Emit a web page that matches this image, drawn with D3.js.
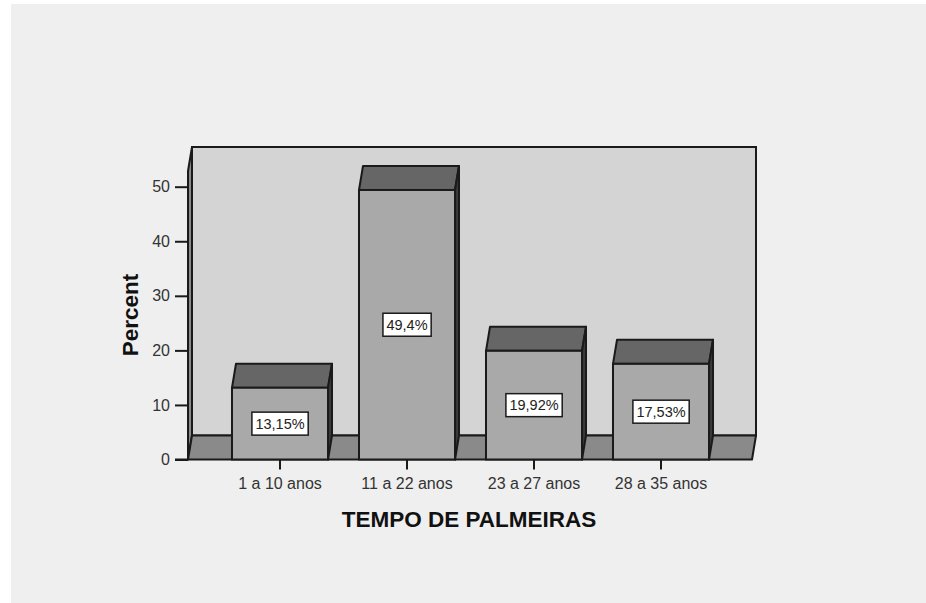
<!DOCTYPE html>
<html>
<head>
<meta charset="utf-8">
<script src="https://cdn.jsdelivr.net/npm/d3@7"></script>
<style>
  html, body { margin: 0; padding: 0; background: #ffffff; }
  svg { display: block; }
  text { font-family: "Liberation Sans", Arial, Helvetica, sans-serif; }
</style>
</head>
<body>
<svg id="chart" width="926" height="603"></svg>
<script>
// Distribution of palm ages (percent of plants per age class)
const categories = ["1 a 10 anos", "11 a 22 anos", "23 a 27 anos", "28 a 35 anos"];
const percentValues = [13.15, 49.4, 19.92, 17.53];
const valueLabels = ["13,15%", "49,4%", "19,92%", "17,53%"];
const yTicks = [0, 10, 20, 30, 40, 50];
const xTitle = "TEMPO DE PALMEIRAS";
const yTitle = "Percent";

const svg = d3.select("#chart");

// page panel
svg.append("rect").attr("x", 11).attr("y", 4).attr("width", 915).attr("height", 599).attr("fill", "#efefef");

// geometry of the 3D box
const left = 188, right = 752;       // front edges
const depthX = 4, depthY = -24;       // offset of the back plane
const wallTop = 147;                  // top of back wall

const y = d3.scaleLinear().domain([0, 50]).range([459.5, 186.7]);
const x = d3.scaleBand().domain(categories)
  .range([216.5, 724.5]).paddingInner(0.244).paddingOuter(0.122);

const floorFront = y(0);
const floorBack = floorFront + depthY;
const stroke = "#1a1a1a";

const g = svg.append("g");

// back wall
g.append("rect")
  .attr("x", left + depthX).attr("y", wallTop)
  .attr("width", right - left).attr("height", floorBack - wallTop)
  .attr("fill", "#d4d4d4").attr("stroke", stroke).attr("stroke-width", 2);

// left wall (thin slab)
g.append("path")
  .attr("d", `M${left},${floorFront} L${left},${wallTop - depthY} L${left + depthX},${wallTop} L${left + depthX},${floorBack} Z`)
  .attr("fill", "#8a8a8a").attr("stroke", stroke).attr("stroke-width", 2).attr("stroke-linejoin", "round");

// floor
g.append("path")
  .attr("d", `M${left},${floorFront} L${right},${floorFront} L${right + depthX},${floorBack} L${left + depthX},${floorBack} Z`)
  .attr("fill", "#8a8a8a").attr("stroke", stroke).attr("stroke-width", 2).attr("stroke-linejoin", "round");

// bars
const bars = g.selectAll("g.bar").data(categories.map((c, i) => ({ c, v: percentValues[i], lab: valueLabels[i] })))
  .enter().append("g").attr("class", "bar");

bars.each(function(d) {
  const b = d3.select(this);
  const x0 = x(d.c), x1 = x0 + x.bandwidth();
  const yt = y(d.v);
  // top face
  b.append("path")
    .attr("d", `M${x0},${yt} L${x0 + depthX},${yt + depthY} L${x1 + depthX},${yt + depthY} L${x1},${yt} Z`)
    .attr("fill", "#666666").attr("stroke", stroke).attr("stroke-width", 2).attr("stroke-linejoin", "round");
  // side face
  b.append("path")
    .attr("d", `M${x1},${yt} L${x1 + depthX},${yt + depthY} L${x1 + depthX},${floorBack} L${x1},${floorFront} Z`)
    .attr("fill", "#3a3a3a").attr("stroke", stroke).attr("stroke-width", 2).attr("stroke-linejoin", "round");
  // front face
  b.append("rect")
    .attr("x", x0).attr("y", yt).attr("width", x.bandwidth()).attr("height", floorFront - yt)
    .attr("fill", "#a9a9a9").attr("stroke", stroke).attr("stroke-width", 2);

  // value label box
  const cx = x0 + x.bandwidth() / 2, cy = (yt + floorFront) / 2;
  const t = b.append("text")
    .attr("x", cx).attr("y", cy + 5.2)
    .attr("text-anchor", "middle").attr("font-size", 14.5).attr("fill", "#222")
    .text(d.lab);
  const bb = t.node().getBBox();
  b.insert("rect", "text")
    .attr("x", bb.x - 3.5).attr("y", cy - 11.5).attr("width", bb.width + 7).attr("height", 23)
    .attr("fill", "#ffffff").attr("stroke", stroke).attr("stroke-width", 1.5);
});

// y axis
const yAxis = d3.axisLeft(y).tickValues(yTicks).tickSize(13).tickPadding(5).tickSizeOuter(0);
const ya = svg.append("g").attr("transform", `translate(${left},0)`).call(yAxis);
ya.select(".domain").remove();
ya.selectAll(".tick line").attr("stroke", stroke).attr("stroke-width", 2);
ya.selectAll(".tick text").attr("font-size", 16).attr("fill", "#333")
  .style("font-family", "'Liberation Sans', Arial, sans-serif");

// x axis
const xAxis = d3.axisBottom(x).tickSize(10).tickPadding(8).tickSizeOuter(0);
const xa = svg.append("g").attr("transform", `translate(0,${floorFront})`).call(xAxis);
xa.select(".domain").remove();
xa.selectAll(".tick line").attr("stroke", stroke).attr("stroke-width", 2);
xa.selectAll(".tick text").attr("font-size", 16).attr("fill", "#333")
  .style("font-family", "'Liberation Sans', Arial, sans-serif");

// baseline segment left of the box
svg.append("line").attr("x1", left - 13).attr("x2", left).attr("y1", floorFront).attr("y2", floorFront)
  .attr("stroke", stroke).attr("stroke-width", 2);

// axis titles
svg.append("text")
  .attr("x", 469).attr("y", 527).attr("text-anchor", "middle")
  .attr("font-size", 22.5).attr("font-weight", "bold").attr("fill", "#111")
  .text(xTitle);

svg.append("text")
  .attr("transform", "translate(138,315) rotate(-90)").attr("text-anchor", "middle")
  .attr("font-size", 22.5).attr("font-weight", "bold").attr("fill", "#111")
  .text(yTitle);
</script>
</body>
</html>
